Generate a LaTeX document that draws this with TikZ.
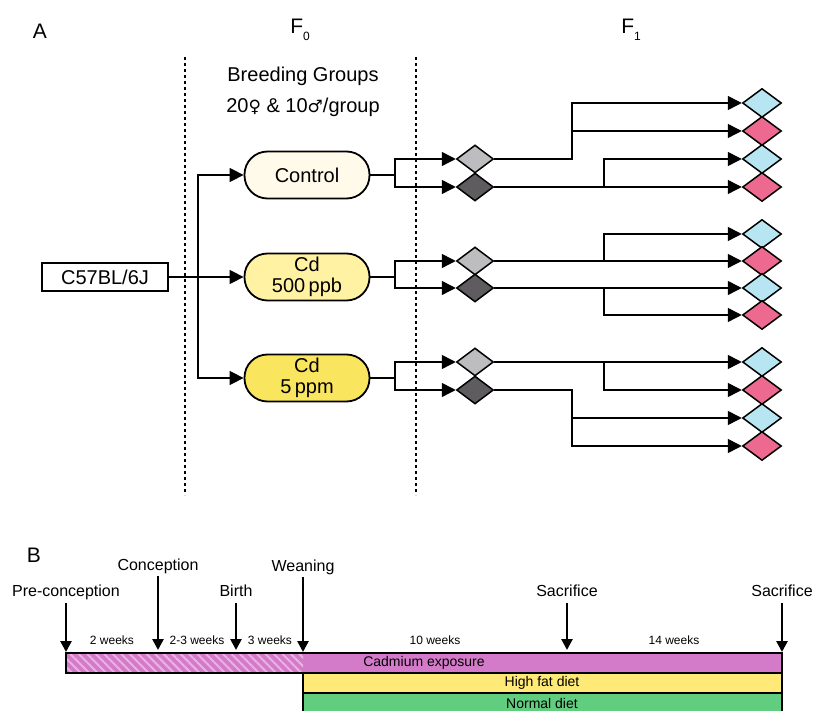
\documentclass[tikz,border=0pt]{standalone}
\usepackage{fontspec}
\setmainfont{Liberation Sans}
\newfontfamily\symfont{DejaVu Sans}
\usetikzlibrary{arrows.meta, shapes.geometric, patterns.meta}

\definecolor{creamfill}{HTML}{FFFAEA}
\definecolor{paleyellow}{HTML}{FFF2A3}
\definecolor{midyellow}{HTML}{FAE55F}
\definecolor{lightgrey}{HTML}{BDBDBF}
\definecolor{darkgrey}{HTML}{5E5C5E}
\definecolor{pupcyan}{HTML}{B7E5F1}
\definecolor{puppink}{HTML}{EE6990}
\definecolor{cdmagenta}{HTML}{D37BC9}
\definecolor{hatchpink}{HTML}{EBB0E4}
\definecolor{hfdyellow}{HTML}{FFE977}
\definecolor{ndgreen}{HTML}{61CD7F}

\begin{document}
\begin{tikzpicture}[x=1pt, y=-1pt, line width=1.5pt,
    arr/.style={-{Triangle[length=14pt,width=14pt]}},
    tarr/.style={line width=2.6pt, -{Triangle[length=11pt,width=11pt]}},
    divider/.style={line width=1.6pt, dash pattern=on 3pt off 3pt},
    strain/.style={rectangle, draw, minimum width=126pt, minimum height=28pt,
                   font=\fontsize{20}{21}\selectfont},
    group/.style={rectangle, rounded corners=23pt, draw, line width=1.8pt, fill=#1,
                  minimum width=125pt, minimum height=47pt, align=center,
                  font=\fontsize{20}{21}\selectfont},
    parent/.style={diamond, draw, fill=#1, minimum width=37pt, minimum height=28pt,
                   inner sep=0pt},
    pup/.style={diamond, draw, fill=#1, minimum width=39pt, minimum height=29pt,
                inner sep=0pt},
    big/.style={font=\fontsize{21}{21}\selectfont},
    lab/.style={anchor=base, font=\fontsize{16}{16}\selectfont},
    wk/.style={anchor=base, font=\fontsize{12}{12}\selectfont},
    bartxt/.style={font=\fontsize{14}{14}\selectfont},
]
\useasboundingbox (0,0) rectangle (815,711);

% panel A
\node[big] (panA) at (40,31) {A};
\node[big] (gen0) at (300,30) {F\raisebox{-7pt}{\fontsize{12}{12}\selectfont 0}};
\node[big] (gen1) at (631,30) {F\raisebox{-7pt}{\fontsize{12}{12}\selectfont 1}};
\node[anchor=base, font=\fontsize{20}{20}\selectfont] (bgrp) at (303,82) {Breeding Groups};
\node[anchor=base, font=\fontsize{20}{20}\selectfont] (bnum) at (303,113)
    {20{\symfont\fontsize{17}{17}\selectfont♀} \& 10{\symfont\fontsize{17}{17}\selectfont♂}/group};

\draw[divider] (185,57) -- (185,495);
\draw[divider] (416,57) -- (416,495);

\node[strain] (c57) at (105,277) {C57BL/6J};
\node[group=creamfill]  (ctrl)   at (307,175) {Control};
\node[group=paleyellow] (cdlow)  at (307,277) {Cd\\500\,ppb};
\node[group=midyellow]  (cdhigh) at (307,378) {Cd\\5\,ppm};

\coordinate (split) at (198,277);
\draw[arr] (c57) -- (cdlow);
\draw[arr] (split) |- (ctrl);
\draw[arr] (split) |- (cdhigh);

% F0 breeders
\node[parent=lightgrey] (d1a) at (475,159) {};
\node[parent=darkgrey]  (d1b) at (475,187) {};
\node[parent=lightgrey] (d2a) at (475,261) {};
\node[parent=darkgrey]  (d2b) at (475,288) {};
\node[parent=lightgrey] (d3a) at (475,362) {};
\node[parent=darkgrey]  (d3b) at (475,390) {};

\coordinate (f1) at (395,175);
\coordinate (f2) at (395,277);
\coordinate (f3) at (395,378);
\draw (ctrl) -- (f1);
\draw (cdlow) -- (f2);
\draw (cdhigh) -- (f3);
\draw[arr] (f1) |- (d1a);
\draw[arr] (f1) |- (d1b);
\draw[arr] (f2) |- (d2a);
\draw[arr] (f2) |- (d2b);
\draw[arr] (f3) |- (d3a);
\draw[arr] (f3) |- (d3b);

% F1 offspring
\node[pup=pupcyan] (o1)  at (762,103) {};
\node[pup=puppink] (o2)  at (762,131) {};
\node[pup=pupcyan] (o3)  at (762,159) {};
\node[pup=puppink] (o4)  at (762,187) {};
\node[pup=pupcyan] (o5)  at (762,234) {};
\node[pup=puppink] (o6)  at (762,261) {};
\node[pup=pupcyan] (o7)  at (762,288) {};
\node[pup=puppink] (o8)  at (762,315) {};
\node[pup=pupcyan] (o9)  at (762,362) {};
\node[pup=puppink] (o10) at (762,390) {};
\node[pup=pupcyan] (o11) at (762,418) {};
\node[pup=puppink] (o12) at (762,446) {};

\coordinate (b1) at (572,159);
\coordinate (b2) at (604,187);
\coordinate (b3) at (604,261);
\coordinate (b4) at (604,288);
\coordinate (b5) at (604,362);
\coordinate (b6) at (572,390);
\draw[arr] (d1a) -- (b1) |- (o1);
\draw[arr] (b1 |- o2) -- (o2);
\draw[arr] (d1b) -- (o4);
\draw[arr] (b2) |- (o3);
\draw[arr] (d2a) -- (o6);
\draw[arr] (b3) |- (o5);
\draw[arr] (d2b) -- (o7);
\draw[arr] (b4) |- (o8);
\draw[arr] (d3a) -- (o9);
\draw[arr] (b5) |- (o10);
\draw[arr] (d3b) -- (b6) |- (o12);
\draw[arr] (b6 |- o11) -- (o11);

% panel B
\node[big] (panB) at (34,555) {B};

\fill[cdmagenta] (66,653) rectangle (782,673);
\fill[pattern={Lines[angle=-45,distance=6pt,line width=2pt]}, pattern color=hatchpink]
    (66,653) rectangle (303,673);
\fill[hfdyellow] (303,673) rectangle (782,693);
\fill[ndgreen] (303,693) rectangle (782,714);
\draw (66,653) rectangle (782,673);
\draw (303,673) rectangle (782,693);
\draw (303,693) rectangle (782,714);

\node[bartxt] (cdexp) at (424,663) {Cadmium exposure};
\node[bartxt] (hfd)   at (542,683) {High fat diet};
\node[bartxt] (nd)    at (542,703) {Normal diet};

\node[lab] (lpre)  at (66,596)  {Pre-conception};
\node[lab] (lcon)  at (158,570) {Conception};
\node[lab] (lbir)  at (236,596) {Birth};
\node[lab] (lwea)  at (303,572) {Weaning};
\node[lab] (lsac1) at (567,596) {Sacrifice};
\node[lab] (lsac2) at (782,596) {Sacrifice};

\coordinate (tpre)  at (66,652);
\coordinate (tcon)  at (158,650);
\coordinate (tbir)  at (236,650);
\coordinate (twea)  at (303,652);
\coordinate (tsac1) at (567,650);
\coordinate (tsac2) at (782,652);
\draw[tarr] (66,603)  -- (tpre);
\draw[tarr] (158,576) -- (tcon);
\draw[tarr] (236,603) -- (tbir);
\draw[tarr] (303,577) -- (twea);
\draw[tarr] (567,603) -- (tsac1);
\draw[tarr] (782,603) -- (tsac2);

\node[wk] (w1) at (112,644) {2 weeks};
\node[wk] (w2) at (197,644) {2-3 weeks};
\node[wk] (w3) at (270,644) {3 weeks};
\node[wk] (w4) at (435,644) {10 weeks};
\node[wk] (w5) at (674,644) {14 weeks};
\end{tikzpicture}
\end{document}
